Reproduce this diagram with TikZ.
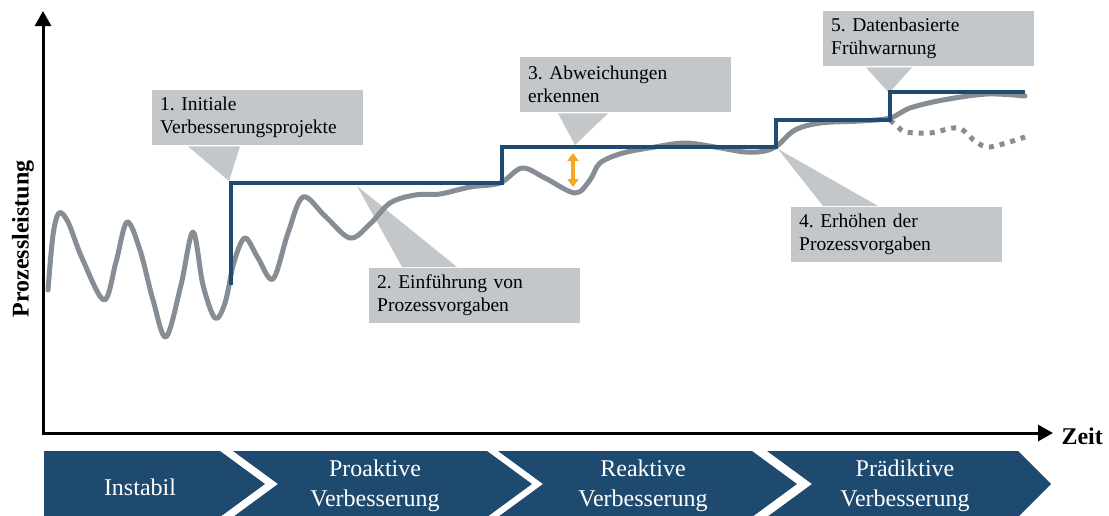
\documentclass[tikz,border=0pt]{standalone}
\usepackage{fontspec}
\setmainfont{Liberation Serif}
\usetikzlibrary{arrows.meta}
\definecolor{stepblue}{HTML}{1F4B73}
\definecolor{chevblue}{HTML}{1F4A6F}
\definecolor{curvegrey}{HTML}{868D94}
\definecolor{calloutgrey}{HTML}{C4C7CA}
\definecolor{devorange}{HTML}{F6A823}
\frenchspacing
\begin{document}
\begin{tikzpicture}[x=1pt,y=-1pt,
  callout/.style={fill=calloutgrey, inner xsep=8pt, inner ysep=0pt,
    text width=195pt, minimum height=55pt, align=left, anchor=north west,
    font=\fontsize{19.5}{23}\selectfont},
  pointer/.style={fill=calloutgrey},
  chevron/.style={fill=chevblue},
  phase/.style={text=white, align=center, font=\fontsize{24}{30}\selectfont},
  axisline/.style={line width=3pt,
    {Triangle[length=15pt,width=16pt]}-{Triangle[length=15pt,width=16pt]}},
  stepline/.style={stepblue, line width=4.5pt, line join=miter},
  perf/.style={curvegrey, line width=5pt, line cap=round, line join=round},
  perfdot/.style={curvegrey, line width=5pt, dash pattern=on 5pt off 6pt},
  axislabel/.style={font=\bfseries\fontsize{24}{24}\selectfont}
]
\clip (0,0) rectangle (1109,515);

% callout boxes
\node[callout] (c1) at (152,90)  {1. Initiale\\Verbesserungsprojekte};
\node[callout] (c2) at (369,268) {2. Einführung von\\Prozessvorgaben};
\node[callout] (c3) at (520,57)  {3. Abweichungen\\erkennen};
\node[callout] (c4) at (791,207) {4. Erhöhen der\\Prozessvorgaben};
\node[callout] (c5) at (823,11)  {5. Datenbasierte\\Frühwarnung};

% pointer tips
\coordinate (t1) at (229,181);
\coordinate (t2) at (357,186);
\coordinate (t3) at (575,145);
\coordinate (t4) at (778,149);
\coordinate (t5) at (889,93);

\fill[pointer] ([xshift=36pt,yshift=-1pt]c1.south west) -- ([xshift=88pt,yshift=-1pt]c1.south west) -- (t1) -- cycle;
\fill[pointer] ([xshift=33pt,yshift=1pt]c2.north west) -- ([xshift=88pt,yshift=1pt]c2.north west) -- (t2) -- cycle;
\fill[pointer] ([xshift=38pt,yshift=-1pt]c3.south west) -- ([xshift=88pt,yshift=-1pt]c3.south west) -- (t3) -- cycle;
\fill[pointer] ([xshift=32pt,yshift=1pt]c4.north west) -- ([xshift=87pt,yshift=1pt]c4.north west) -- (t4) -- cycle;
\fill[pointer] ([xshift=43pt,yshift=-1pt]c5.south west) -- ([xshift=89pt,yshift=-1pt]c5.south west) -- (t5) -- cycle;

% process performance
\draw[perf] plot[smooth, tension=0.55] coordinates {
  (48,290) (53,235) (59,213) (68,222) (82,258) (104,300) (116,262) (127,222)
  (140,250) (153,300) (166,337) (181,285) (193,232) (203,285) (215,318)
  (225,303) (234,262) (245,238) (258,258) (273,279) (288,233) (303,197)
  (325,216) (350,238) (370,224) (390,203) (415,195) (440,194) (470,187)
  (500,183) (522,168) (545,178) (575,193) (590,180) (600,163) (623,153)
  (655,147) (685,143) (715,147) (745,152) (765,151) (778,145) (795,130)
  (820,123) (860,121) (890,118) (910,108) (943,100) (987,94) (1025,96)};
\draw[perfdot] plot[smooth, tension=0.55] coordinates {
  (890,120) (898,127) (906,132) (930,133) (958,128) (975,141) (990,147) (1025,137)};

% process targets
\draw[stepline] (231,285) |- (502,183) |- (776,147) |- (890,120) |- (1025,92);

% deviation marker
\draw[devorange, line width=3.5pt,
  {Triangle[length=8pt,width=11pt]}-{Triangle[length=8pt,width=11pt]}]
  (573,153) -- (573,187);

% axes
\draw[axisline] (43,11) -- (43,433) -- (1053,433);
\node[axislabel, anchor=west] (zeit) at (1058,436) {Zeit};
\node[axislabel, rotate=90] (perfl) at (23,239) {Prozessleistung};

% phases
\fill[chevron] (44,451) -- (220,451) -- (265,484) -- (220,517) -- (44,517) -- cycle;
\fill[chevron] (233,451) -- (487,451) -- (532,484) -- (487,517) -- (233,517) -- (278,484) -- cycle;
\fill[chevron] (498,451) -- (752,451) -- (797,484) -- (752,517) -- (498,517) -- (543,484) -- cycle;
\fill[chevron] (767,451) -- (1018,451) -- (1051,484) -- (1018,517) -- (767,517) -- (812,484) -- cycle;

\node[phase] (p1) at (140,487) {Instabil};
\node[phase] (p2) at (375,486) {Proaktive\\Verbesserung};
\node[phase] (p3) at (643,486) {Reaktive\\Verbesserung};
\node[phase] (p4) at (905,486) {Prädiktive\\Verbesserung};
\end{tikzpicture}
\end{document}
